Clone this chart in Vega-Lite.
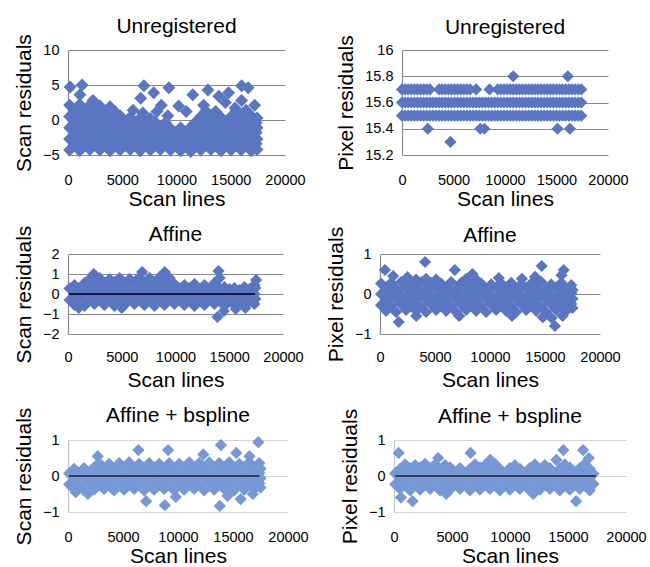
{
"$schema":"https://vega.github.io/schema/vega-lite/v6.json",
"padding":{"left":13,"top":15,"right":0,"bottom":0},
"background":"white",
"config":{
 "font":"Liberation Sans",
 "view":{"stroke":null},
 "title":{"fontSize":21,"fontWeight":"normal","color":"#000","font":"Liberation Sans"},
 "axis":{"labelFont":"Liberation Sans","titleFont":"Liberation Sans","labelFontSize":14.5,"labelColor":"#000","titleFontSize":21,"titleFontWeight":"normal","titleColor":"#000","ticks":false,"domainColor":"#8a8a8a","gridColor":"#8a8a8a","gridWidth":1.2,"domainWidth":1.2,"labelFlush":false,"labelOverlap":false},
 "axisX":{"domain":false,"grid":false,"labelPadding":18,"titlePadding":2},
 "axisY":{"labelPadding":9,"titlePadding":8},
 "point":{"shape":"diamond","filled":true,"size":150,"opacity":1,"strokeWidth":0}
},
"datasets":{
"zl":[{"x":100,"y":0},{"x":17400,"y":0}],
"p1":[
{"x":150,"y":-4.3},{"x":1080,"y":-4.4},{"x":2010,"y":-4.2},{"x":2940,"y":-4.3},{"x":3870,"y":-4.4},{"x":4800,"y":-4.3},{"x":5730,"y":-4.2},{"x":6660,"y":-4.4},{"x":7590,"y":-4.3},{"x":8520,"y":-4.2},{"x":9450,"y":-4.3},{"x":10380,"y":-4.4},{"x":11310,"y":-4.5},{"x":12240,"y":-4.3},{"x":13170,"y":-4.2},{"x":14100,"y":-4.4},{"x":15030,"y":-4.3},{"x":15960,"y":-4.3},{"x":16890,"y":-4.4},{"x":17420,"y":-4.2},
{"x":600,"y":-3.5},{"x":1530,"y":-3.6},{"x":2460,"y":-3.4},{"x":3390,"y":-3.5},{"x":4320,"y":-3.5},{"x":5250,"y":-3.6},{"x":6180,"y":-3.4},{"x":7110,"y":-3.5},{"x":8040,"y":-3.6},{"x":8970,"y":-3.5},{"x":9900,"y":-3.4},{"x":10830,"y":-3.5},{"x":11760,"y":-3.6},{"x":12690,"y":-3.5},{"x":13620,"y":-3.4},{"x":14550,"y":-3.5},{"x":15480,"y":-3.6},{"x":16410,"y":-3.5},{"x":17340,"y":-3.4},
{"x":150,"y":-2.7},{"x":1080,"y":-2.6},{"x":2010,"y":-2.8},{"x":2940,"y":-2.7},{"x":3870,"y":-2.7},{"x":4800,"y":-2.6},{"x":5730,"y":-2.8},{"x":6660,"y":-2.7},{"x":7590,"y":-2.6},{"x":8520,"y":-2.7},{"x":9450,"y":-2.8},{"x":10380,"y":-2.7},{"x":11310,"y":-2.6},{"x":12240,"y":-2.7},{"x":13170,"y":-2.8},{"x":14100,"y":-2.7},{"x":15030,"y":-2.7},{"x":15960,"y":-2.6},{"x":16890,"y":-2.8},{"x":17420,"y":-2.7},
{"x":600,"y":-1.9},{"x":1530,"y":-2.0},{"x":2460,"y":-1.8},{"x":3390,"y":-1.9},{"x":4320,"y":-1.9},{"x":5250,"y":-2.0},{"x":6180,"y":-1.8},{"x":7110,"y":-1.9},{"x":8040,"y":-1.9},{"x":8970,"y":-2.0},{"x":9900,"y":-1.8},{"x":10830,"y":-1.9},{"x":11760,"y":-1.9},{"x":12690,"y":-2.0},{"x":13620,"y":-1.8},{"x":14550,"y":-1.9},{"x":15480,"y":-1.9},{"x":16410,"y":-2.0},{"x":17340,"y":-1.8},
{"x":150,"y":-1.1},{"x":1080,"y":-1.0},{"x":2010,"y":-1.2},{"x":2940,"y":-1.1},{"x":3870,"y":-1.1},{"x":4800,"y":-1.0},{"x":5730,"y":-1.2},{"x":6660,"y":-1.1},{"x":7590,"y":-1.0},{"x":8520,"y":-1.1},{"x":9450,"y":-1.2},{"x":10380,"y":-1.1},{"x":11310,"y":-1.0},{"x":12240,"y":-1.1},{"x":13170,"y":-1.2},{"x":14100,"y":-1.1},{"x":15030,"y":-1.1},{"x":15960,"y":-1.0},{"x":16890,"y":-1.2},{"x":17420,"y":-1.1},
{"x":600,"y":-0.3},{"x":1530,"y":-0.2},{"x":2460,"y":-0.4},{"x":3390,"y":-0.3},{"x":4320,"y":-0.3},{"x":5250,"y":-0.2},{"x":6180,"y":-0.4},{"x":7110,"y":-0.3},{"x":8040,"y":-0.3},{"x":8970,"y":-0.4},{"x":11760,"y":-0.3},{"x":12690,"y":-0.2},{"x":13620,"y":-0.4},{"x":14550,"y":-0.3},{"x":15480,"y":-0.3},{"x":16410,"y":-0.2},{"x":17340,"y":-0.4},
{"x":150,"y":0.5},{"x":1080,"y":0.6},{"x":2010,"y":0.4},{"x":2940,"y":0.5},{"x":3870,"y":0.5},{"x":4800,"y":0.6},{"x":5730,"y":0.4},{"x":6660,"y":0.3},{"x":7590,"y":0.2},{"x":12240,"y":0.5},{"x":13170,"y":0.6},{"x":14100,"y":0.4},{"x":15030,"y":0.5},{"x":15960,"y":0.5},{"x":16890,"y":0.6},{"x":17420,"y":0.3},
{"x":600,"y":1.3},{"x":1530,"y":1.4},{"x":2460,"y":1.2},{"x":3390,"y":1.3},{"x":4320,"y":1.2},{"x":12690,"y":1.3},{"x":13620,"y":1.2},{"x":15480,"y":1.3},{"x":16410,"y":1.4},
{"x":150,"y":2.1},{"x":1080,"y":2.2},{"x":2010,"y":2.1},{"x":2940,"y":2.0},{"x":3870,"y":1.9},
{"x":200,"y":4.7},{"x":1300,"y":5.0},{"x":1100,"y":3.6},{"x":2300,"y":2.8},{"x":7000,"y":4.9},{"x":6700,"y":3.1},{"x":7900,"y":3.9},{"x":9300,"y":4.6},{"x":8600,"y":2.1},{"x":6000,"y":1.4},{"x":6900,"y":1.0},{"x":10200,"y":2.0},{"x":11500,"y":3.6},{"x":12900,"y":4.3},{"x":13900,"y":3.4},{"x":12500,"y":2.1},{"x":14800,"y":3.9},{"x":16000,"y":4.9},{"x":16600,"y":4.6},{"x":17200,"y":2.1},{"x":15400,"y":1.7},{"x":9200,"y":0.6},{"x":10900,"y":1.2},{"x":8200,"y":1.2},{"x":14500,"y":2.5},{"x":16000,"y":2.8}
],
"p2":[
{"x":0,"y":15.5},{"x":300,"y":15.5},{"x":600,"y":15.5},{"x":900,"y":15.5},{"x":1200,"y":15.5},{"x":1500,"y":15.5},{"x":1800,"y":15.5},{"x":2100,"y":15.5},{"x":2400,"y":15.5},{"x":2700,"y":15.5},{"x":3000,"y":15.5},{"x":3300,"y":15.5},{"x":3600,"y":15.5},{"x":3900,"y":15.5},{"x":4200,"y":15.5},{"x":4500,"y":15.5},{"x":4800,"y":15.5},{"x":5100,"y":15.5},{"x":5400,"y":15.5},{"x":5700,"y":15.5},{"x":6000,"y":15.5},{"x":6300,"y":15.5},{"x":6600,"y":15.5},{"x":6900,"y":15.5},{"x":7200,"y":15.5},{"x":7500,"y":15.5},{"x":7800,"y":15.5},{"x":8100,"y":15.5},{"x":8400,"y":15.5},{"x":8700,"y":15.5},{"x":9000,"y":15.5},{"x":9300,"y":15.5},{"x":9600,"y":15.5},{"x":9900,"y":15.5},{"x":10200,"y":15.5},{"x":10500,"y":15.5},{"x":10800,"y":15.5},{"x":11100,"y":15.5},{"x":11400,"y":15.5},{"x":11700,"y":15.5},{"x":12000,"y":15.5},{"x":12300,"y":15.5},{"x":12600,"y":15.5},{"x":12900,"y":15.5},{"x":13200,"y":15.5},{"x":13500,"y":15.5},{"x":13800,"y":15.5},{"x":14100,"y":15.5},{"x":14400,"y":15.5},{"x":14700,"y":15.5},{"x":15000,"y":15.5},{"x":15300,"y":15.5},{"x":15600,"y":15.5},{"x":15900,"y":15.5},{"x":16200,"y":15.5},{"x":16500,"y":15.5},{"x":16800,"y":15.5},{"x":17100,"y":15.5},{"x":17400,"y":15.5},
{"x":0,"y":15.6},{"x":300,"y":15.6},{"x":600,"y":15.6},{"x":900,"y":15.6},{"x":1200,"y":15.6},{"x":1500,"y":15.6},{"x":1800,"y":15.6},{"x":2100,"y":15.6},{"x":2400,"y":15.6},{"x":2700,"y":15.6},{"x":3000,"y":15.6},{"x":3300,"y":15.6},{"x":3600,"y":15.6},{"x":3900,"y":15.6},{"x":4200,"y":15.6},{"x":4500,"y":15.6},{"x":4800,"y":15.6},{"x":5100,"y":15.6},{"x":5400,"y":15.6},{"x":5700,"y":15.6},{"x":6000,"y":15.6},{"x":6300,"y":15.6},{"x":6600,"y":15.6},{"x":6900,"y":15.6},{"x":7200,"y":15.6},{"x":7500,"y":15.6},{"x":7800,"y":15.6},{"x":8100,"y":15.6},{"x":8400,"y":15.6},{"x":8700,"y":15.6},{"x":9000,"y":15.6},{"x":9300,"y":15.6},{"x":9600,"y":15.6},{"x":9900,"y":15.6},{"x":10200,"y":15.6},{"x":10500,"y":15.6},{"x":10800,"y":15.6},{"x":11100,"y":15.6},{"x":11400,"y":15.6},{"x":11700,"y":15.6},{"x":12000,"y":15.6},{"x":12300,"y":15.6},{"x":12600,"y":15.6},{"x":12900,"y":15.6},{"x":13200,"y":15.6},{"x":13500,"y":15.6},{"x":13800,"y":15.6},{"x":14100,"y":15.6},{"x":14400,"y":15.6},{"x":14700,"y":15.6},{"x":15000,"y":15.6},{"x":15300,"y":15.6},{"x":15600,"y":15.6},{"x":15900,"y":15.6},{"x":16200,"y":15.6},{"x":16500,"y":15.6},{"x":16800,"y":15.6},{"x":17100,"y":15.6},{"x":17400,"y":15.6},
{"x":0,"y":15.7},{"x":300,"y":15.7},{"x":600,"y":15.7},{"x":900,"y":15.7},{"x":1200,"y":15.7},{"x":1500,"y":15.7},{"x":1800,"y":15.7},{"x":2100,"y":15.7},{"x":2400,"y":15.7},{"x":2700,"y":15.7},{"x":3600,"y":15.7},{"x":3900,"y":15.7},{"x":4200,"y":15.7},{"x":4500,"y":15.7},{"x":4800,"y":15.7},{"x":5100,"y":15.7},{"x":5400,"y":15.7},{"x":5700,"y":15.7},{"x":6000,"y":15.7},{"x":6300,"y":15.7},{"x":6600,"y":15.7},{"x":7200,"y":15.7},{"x":8500,"y":15.7},{"x":9300,"y":15.7},{"x":9600,"y":15.7},{"x":9900,"y":15.7},{"x":10200,"y":15.7},{"x":10500,"y":15.7},{"x":10800,"y":15.7},{"x":11100,"y":15.7},{"x":11400,"y":15.7},{"x":11700,"y":15.7},{"x":12000,"y":15.7},{"x":12300,"y":15.7},{"x":12600,"y":15.7},{"x":12900,"y":15.7},{"x":13200,"y":15.7},{"x":13500,"y":15.7},{"x":13800,"y":15.7},{"x":14100,"y":15.7},{"x":14400,"y":15.7},{"x":14700,"y":15.7},{"x":15000,"y":15.7},{"x":15300,"y":15.7},{"x":15600,"y":15.7},{"x":15900,"y":15.7},{"x":16200,"y":15.7},{"x":16500,"y":15.7},{"x":16800,"y":15.7},{"x":17100,"y":15.7},{"x":17400,"y":15.7},
{"x":10800,"y":15.8},{"x":16100,"y":15.8},{"x":2500,"y":15.4},{"x":7600,"y":15.4},{"x":8000,"y":15.4},{"x":15100,"y":15.4},{"x":16300,"y":15.4},{"x":4700,"y":15.3}
],
"p3":[
{"x":600,"y":-0.55},{"x":1530,"y":-0.6},{"x":2460,"y":-0.5},{"x":3390,"y":-0.55},{"x":4320,"y":-0.6},{"x":5250,"y":-0.55},{"x":6180,"y":-0.5},{"x":7110,"y":-0.55},{"x":8040,"y":-0.6},{"x":8970,"y":-0.55},{"x":9900,"y":-0.5},{"x":10830,"y":-0.55},{"x":11760,"y":-0.6},{"x":12690,"y":-0.55},{"x":13620,"y":-0.5},{"x":14550,"y":-0.6},{"x":15480,"y":-0.55},{"x":16410,"y":-0.6},{"x":17340,"y":-0.5},
{"x":150,"y":-0.3},{"x":1080,"y":-0.25},{"x":2010,"y":-0.3},{"x":2940,"y":-0.28},{"x":3870,"y":-0.25},{"x":4800,"y":-0.3},{"x":5730,"y":-0.28},{"x":6660,"y":-0.3},{"x":7590,"y":-0.25},{"x":8520,"y":-0.28},{"x":9450,"y":-0.3},{"x":10380,"y":-0.25},{"x":11310,"y":-0.28},{"x":12240,"y":-0.3},{"x":13170,"y":-0.25},{"x":14100,"y":-0.28},{"x":15030,"y":-0.3},{"x":15960,"y":-0.28},{"x":16890,"y":-0.3},{"x":17420,"y":-0.25},
{"x":600,"y":0.0},{"x":1530,"y":0.02},{"x":2460,"y":-0.02},{"x":3390,"y":0.0},{"x":4320,"y":0.03},{"x":5250,"y":-0.02},{"x":6180,"y":0.0},{"x":7110,"y":0.02},{"x":8040,"y":0.0},{"x":8970,"y":-0.03},{"x":9900,"y":0.0},{"x":10830,"y":0.02},{"x":11760,"y":0.0},{"x":12690,"y":-0.02},{"x":13620,"y":0.0},{"x":14550,"y":0.02},{"x":15480,"y":0.0},{"x":16410,"y":-0.02},{"x":17340,"y":0.0},
{"x":150,"y":0.28},{"x":1080,"y":0.3},{"x":2010,"y":0.25},{"x":2940,"y":0.3},{"x":3870,"y":0.28},{"x":4800,"y":0.3},{"x":5730,"y":0.25},{"x":6660,"y":0.28},{"x":7590,"y":0.3},{"x":8520,"y":0.28},{"x":9450,"y":0.25},{"x":10380,"y":0.28},{"x":11310,"y":0.3},{"x":12240,"y":0.25},{"x":13170,"y":0.28},{"x":14100,"y":0.3},{"x":15030,"y":0.25},{"x":15960,"y":0.2},{"x":16890,"y":0.25},{"x":17420,"y":0.3},
{"x":600,"y":0.45},{"x":1530,"y":0.55},{"x":2460,"y":0.6},{"x":3390,"y":0.55},{"x":4320,"y":0.6},{"x":5250,"y":0.55},{"x":6180,"y":0.6},{"x":7110,"y":0.55},{"x":8040,"y":0.6},{"x":8970,"y":0.55},{"x":9900,"y":0.5},{"x":10830,"y":0.45},{"x":11760,"y":0.5},{"x":12690,"y":0.45},{"x":13620,"y":0.55},{"x":14550,"y":0.35},{"x":15480,"y":0.3},{"x":16410,"y":0.35},{"x":17340,"y":0.45},
{"x":2010,"y":0.75},{"x":2940,"y":0.8},{"x":3870,"y":0.75},{"x":4800,"y":0.8},{"x":5730,"y":0.75},{"x":6660,"y":0.85},{"x":7590,"y":0.8},{"x":8520,"y":0.85},{"x":9450,"y":0.8},{"x":14100,"y":0.8},
{"x":2400,"y":1.0},{"x":6900,"y":1.1},{"x":9000,"y":1.1},{"x":14000,"y":1.15},{"x":17500,"y":0.7},{"x":13900,"y":-1.15},{"x":14500,"y":-0.85},{"x":15600,"y":-0.75},{"x":16500,"y":-0.7},{"x":1000,"y":-0.7},{"x":5000,"y":-0.7}
],
"p4":[
{"x":550,"y":-0.42},{"x":1460,"y":-0.45},{"x":2370,"y":-0.4},{"x":3280,"y":-0.42},{"x":4190,"y":-0.45},{"x":5100,"y":-0.4},{"x":6010,"y":-0.42},{"x":6920,"y":-0.45},{"x":7830,"y":-0.4},{"x":8740,"y":-0.42},{"x":9650,"y":-0.45},{"x":10560,"y":-0.4},{"x":11470,"y":-0.42},{"x":12380,"y":-0.45},{"x":13290,"y":-0.4},{"x":14200,"y":-0.42},{"x":15110,"y":-0.45},{"x":16020,"y":-0.4},{"x":16930,"y":-0.42},{"x":17500,"y":-0.35},
{"x":100,"y":-0.28},{"x":1010,"y":-0.3},{"x":1920,"y":-0.26},{"x":2830,"y":-0.28},{"x":3740,"y":-0.3},{"x":4650,"y":-0.26},{"x":5560,"y":-0.28},{"x":6470,"y":-0.3},{"x":7380,"y":-0.26},{"x":8290,"y":-0.28},{"x":9200,"y":-0.3},{"x":10110,"y":-0.26},{"x":11020,"y":-0.28},{"x":11930,"y":-0.3},{"x":12840,"y":-0.26},{"x":13750,"y":-0.28},{"x":14660,"y":-0.3},{"x":15570,"y":-0.26},{"x":16480,"y":-0.28},{"x":17390,"y":-0.25},
{"x":550,"y":-0.14},{"x":1460,"y":-0.12},{"x":2370,"y":-0.16},{"x":3280,"y":-0.14},{"x":4190,"y":-0.12},{"x":5100,"y":-0.16},{"x":6010,"y":-0.14},{"x":6920,"y":-0.12},{"x":7830,"y":-0.16},{"x":8740,"y":-0.14},{"x":9650,"y":-0.12},{"x":10560,"y":-0.16},{"x":11470,"y":-0.14},{"x":12380,"y":-0.12},{"x":13290,"y":-0.16},{"x":14200,"y":-0.14},{"x":15110,"y":-0.12},{"x":16020,"y":-0.16},{"x":16930,"y":-0.14},{"x":17500,"y":-0.12},
{"x":100,"y":0.0},{"x":1010,"y":0.02},{"x":1920,"y":-0.02},{"x":2830,"y":0.0},{"x":3740,"y":0.02},{"x":4650,"y":-0.02},{"x":5560,"y":0.0},{"x":6470,"y":0.02},{"x":7380,"y":-0.02},{"x":8290,"y":0.0},{"x":9200,"y":0.02},{"x":10110,"y":-0.02},{"x":11020,"y":0.0},{"x":11930,"y":0.02},{"x":12840,"y":-0.02},{"x":13750,"y":0.0},{"x":14660,"y":0.02},{"x":15570,"y":-0.02},{"x":16480,"y":0.0},{"x":17390,"y":0.02},
{"x":550,"y":0.14},{"x":1460,"y":0.12},{"x":2370,"y":0.16},{"x":3280,"y":0.14},{"x":4190,"y":0.12},{"x":5100,"y":0.16},{"x":6010,"y":0.14},{"x":6920,"y":0.12},{"x":7830,"y":0.16},{"x":8740,"y":0.14},{"x":9650,"y":0.12},{"x":10560,"y":0.16},{"x":11470,"y":0.14},{"x":12380,"y":0.12},{"x":13290,"y":0.16},{"x":14200,"y":0.14},{"x":15110,"y":0.12},{"x":16020,"y":0.16},{"x":16930,"y":0.14},{"x":17500,"y":0.1},
{"x":100,"y":0.26},{"x":1010,"y":0.28},{"x":1920,"y":0.3},{"x":2830,"y":0.28},{"x":3740,"y":0.3},{"x":4650,"y":0.28},{"x":5560,"y":0.26},{"x":6470,"y":0.3},{"x":7380,"y":0.28},{"x":8290,"y":0.3},{"x":9200,"y":0.26},{"x":10110,"y":0.24},{"x":11020,"y":0.26},{"x":11930,"y":0.28},{"x":12840,"y":0.24},{"x":13750,"y":0.26},{"x":14660,"y":0.3},{"x":15570,"y":0.24},{"x":16480,"y":0.28},{"x":17390,"y":0.22},
{"x":3280,"y":0.36},{"x":4190,"y":0.38},{"x":5100,"y":0.36},{"x":7830,"y":0.38},{"x":8740,"y":0.36},
{"x":450,"y":0.6},{"x":4100,"y":0.8},{"x":6800,"y":0.6},{"x":14700,"y":0.7},{"x":16700,"y":0.6},{"x":1700,"y":-0.7},{"x":15900,"y":-0.8},{"x":15600,"y":-0.6},{"x":8400,"y":0.5},{"x":14100,"y":0.43},{"x":16500,"y":0.47},{"x":1200,"y":0.45},{"x":2500,"y":0.42},{"x":10800,"y":0.4},{"x":12900,"y":0.38},{"x":3300,"y":-0.55},{"x":7200,"y":-0.55},{"x":12000,"y":-0.55},{"x":14800,"y":-0.58},{"x":16600,"y":-0.55}
],
"p5":[
{"x":550,"y":-0.36},{"x":1460,"y":-0.4},{"x":2370,"y":-0.38},{"x":3280,"y":-0.36},{"x":4190,"y":-0.4},{"x":5100,"y":-0.38},{"x":6010,"y":-0.36},{"x":6920,"y":-0.4},{"x":7830,"y":-0.38},{"x":8740,"y":-0.36},{"x":9650,"y":-0.4},{"x":10560,"y":-0.38},{"x":11470,"y":-0.36},{"x":12380,"y":-0.4},{"x":13290,"y":-0.38},{"x":14200,"y":-0.36},{"x":15110,"y":-0.4},{"x":16020,"y":-0.38},{"x":16930,"y":-0.36},{"x":17500,"y":-0.32},
{"x":100,"y":-0.23},{"x":1010,"y":-0.25},{"x":1920,"y":-0.21},{"x":2830,"y":-0.23},{"x":3740,"y":-0.25},{"x":4650,"y":-0.21},{"x":5560,"y":-0.23},{"x":6470,"y":-0.25},{"x":7380,"y":-0.21},{"x":8290,"y":-0.23},{"x":9200,"y":-0.25},{"x":10110,"y":-0.21},{"x":11020,"y":-0.23},{"x":11930,"y":-0.25},{"x":12840,"y":-0.21},{"x":13750,"y":-0.23},{"x":14660,"y":-0.25},{"x":15570,"y":-0.21},{"x":16480,"y":-0.23},{"x":17390,"y":-0.2},
{"x":550,"y":-0.08},{"x":1460,"y":-0.06},{"x":2370,"y":-0.1},{"x":3280,"y":-0.08},{"x":4190,"y":-0.06},{"x":5100,"y":-0.1},{"x":6010,"y":-0.08},{"x":6920,"y":-0.06},{"x":7830,"y":-0.1},{"x":8740,"y":-0.08},{"x":9650,"y":-0.06},{"x":10560,"y":-0.1},{"x":11470,"y":-0.08},{"x":12380,"y":-0.06},{"x":13290,"y":-0.1},{"x":14200,"y":-0.08},{"x":15110,"y":-0.06},{"x":16020,"y":-0.1},{"x":16930,"y":-0.08},{"x":17500,"y":-0.06},
{"x":100,"y":0.07},{"x":1010,"y":0.09},{"x":1920,"y":0.05},{"x":2830,"y":0.07},{"x":3740,"y":0.09},{"x":4650,"y":0.05},{"x":5560,"y":0.07},{"x":6470,"y":0.09},{"x":7380,"y":0.05},{"x":8290,"y":0.07},{"x":9200,"y":0.09},{"x":10110,"y":0.05},{"x":11020,"y":0.07},{"x":11930,"y":0.09},{"x":12840,"y":0.05},{"x":13750,"y":0.07},{"x":14660,"y":0.09},{"x":15570,"y":0.05},{"x":16480,"y":0.07},{"x":17390,"y":0.09},
{"x":550,"y":0.2},{"x":1460,"y":0.22},{"x":2370,"y":0.24},{"x":3280,"y":0.22},{"x":4190,"y":0.2},{"x":5100,"y":0.24},{"x":6010,"y":0.22},{"x":6920,"y":0.2},{"x":7830,"y":0.24},{"x":8740,"y":0.22},{"x":9650,"y":0.2},{"x":10560,"y":0.24},{"x":11470,"y":0.22},{"x":12380,"y":0.2},{"x":13290,"y":0.24},{"x":14200,"y":0.22},{"x":15110,"y":0.2},{"x":16020,"y":0.24},{"x":16930,"y":0.22},{"x":17500,"y":0.2},
{"x":2830,"y":0.36},{"x":3740,"y":0.34},{"x":4650,"y":0.36},{"x":5560,"y":0.38},{"x":6470,"y":0.34},{"x":7380,"y":0.36},{"x":8290,"y":0.34},{"x":9200,"y":0.36},{"x":10110,"y":0.34},{"x":11020,"y":0.38},{"x":11930,"y":0.36},{"x":12840,"y":0.38},{"x":13750,"y":0.36},{"x":14660,"y":0.38},{"x":15570,"y":0.34},{"x":16480,"y":0.38},{"x":17390,"y":0.36},
{"x":6400,"y":0.72},{"x":9100,"y":0.72},{"x":13900,"y":0.86},{"x":17300,"y":0.94},{"x":15300,"y":0.64},{"x":12300,"y":0.6},{"x":16500,"y":0.55},{"x":2700,"y":0.55},{"x":7100,"y":-0.7},{"x":8800,"y":-0.81},{"x":13800,"y":-0.83},{"x":15700,"y":-0.64},{"x":9800,"y":-0.58},{"x":14500,"y":-0.55},{"x":16800,"y":-0.5},{"x":1800,"y":-0.5},{"x":700,"y":-0.45}
],
"p6":[
{"x":530,"y":-0.36},{"x":1390,"y":-0.4},{"x":2250,"y":-0.38},{"x":3110,"y":-0.36},{"x":3970,"y":-0.4},{"x":4830,"y":-0.38},{"x":5690,"y":-0.36},{"x":6550,"y":-0.4},{"x":7410,"y":-0.38},{"x":8270,"y":-0.36},{"x":9130,"y":-0.4},{"x":9990,"y":-0.38},{"x":10850,"y":-0.36},{"x":11710,"y":-0.4},{"x":12570,"y":-0.38},{"x":13430,"y":-0.36},{"x":14290,"y":-0.4},{"x":15150,"y":-0.38},{"x":16010,"y":-0.36},{"x":16870,"y":-0.4},
{"x":100,"y":-0.23},{"x":960,"y":-0.25},{"x":1820,"y":-0.21},{"x":2680,"y":-0.23},{"x":3540,"y":-0.25},{"x":4400,"y":-0.21},{"x":5260,"y":-0.23},{"x":6120,"y":-0.25},{"x":6980,"y":-0.21},{"x":7840,"y":-0.23},{"x":8700,"y":-0.25},{"x":9560,"y":-0.21},{"x":10420,"y":-0.23},{"x":11280,"y":-0.25},{"x":12140,"y":-0.21},{"x":13000,"y":-0.23},{"x":13860,"y":-0.25},{"x":14720,"y":-0.21},{"x":15580,"y":-0.23},{"x":16440,"y":-0.25},{"x":17200,"y":-0.22},
{"x":530,"y":-0.08},{"x":1390,"y":-0.06},{"x":2250,"y":-0.1},{"x":3110,"y":-0.08},{"x":3970,"y":-0.06},{"x":4830,"y":-0.1},{"x":5690,"y":-0.08},{"x":6550,"y":-0.06},{"x":7410,"y":-0.1},{"x":8270,"y":-0.08},{"x":9130,"y":-0.06},{"x":9990,"y":-0.1},{"x":10850,"y":-0.08},{"x":11710,"y":-0.06},{"x":12570,"y":-0.1},{"x":13430,"y":-0.08},{"x":14290,"y":-0.06},{"x":15150,"y":-0.1},{"x":16010,"y":-0.08},{"x":16870,"y":-0.06},
{"x":100,"y":0.07},{"x":960,"y":0.09},{"x":1820,"y":0.05},{"x":2680,"y":0.07},{"x":3540,"y":0.09},{"x":4400,"y":0.05},{"x":5260,"y":0.07},{"x":6120,"y":0.09},{"x":6980,"y":0.05},{"x":7840,"y":0.07},{"x":8700,"y":0.09},{"x":9560,"y":0.05},{"x":10420,"y":0.07},{"x":11280,"y":0.09},{"x":12140,"y":0.05},{"x":13000,"y":0.07},{"x":13860,"y":0.09},{"x":14720,"y":0.05},{"x":15580,"y":0.07},{"x":16440,"y":0.09},{"x":17200,"y":0.06},
{"x":530,"y":0.2},{"x":1390,"y":0.22},{"x":2250,"y":0.24},{"x":3110,"y":0.22},{"x":3970,"y":0.2},{"x":4830,"y":0.24},{"x":5690,"y":0.22},{"x":6550,"y":0.2},{"x":7410,"y":0.24},{"x":8270,"y":0.22},{"x":9130,"y":0.2},{"x":9990,"y":0.22},{"x":10850,"y":0.2},{"x":11710,"y":0.22},{"x":12570,"y":0.2},{"x":13430,"y":0.22},{"x":14290,"y":0.2},{"x":15150,"y":0.24},{"x":16010,"y":0.22},{"x":16870,"y":0.2},
{"x":960,"y":0.32},{"x":1820,"y":0.3},{"x":2680,"y":0.34},{"x":3540,"y":0.32},{"x":4400,"y":0.3},{"x":6980,"y":0.32},{"x":7840,"y":0.3},{"x":8700,"y":0.34},{"x":10420,"y":0.3},{"x":12140,"y":0.32},{"x":13000,"y":0.3},{"x":14720,"y":0.32},{"x":16440,"y":0.34},
{"x":400,"y":0.64},{"x":6600,"y":0.64},{"x":14600,"y":0.72},{"x":16300,"y":0.72},{"x":1600,"y":-0.7},{"x":15700,"y":-0.7},{"x":600,"y":-0.6},{"x":3800,"y":0.5},{"x":8300,"y":0.45},{"x":14000,"y":0.45},{"x":16800,"y":0.5},{"x":4500,"y":-0.5},{"x":12000,"y":-0.5}
]
},
"spacing":14,
"vconcat":[
{"spacing":29,"hconcat":[
 {"width":217,"height":105,"title":{"text":"Unregistered","offset":-3},
  "data":{"name":"p1"},"mark":{"type":"point","color":"#5a76c2","size":168},
  "encoding":{
   "x":{"field":"x","type":"quantitative","scale":{"domain":[0,20000],"nice":false},"axis":{"values":[0,5000,10000,15000,20000],"tickCount":12,"format":"d","title":"Scan lines"}},
   "y":{"field":"y","type":"quantitative","scale":{"domain":[-5,10],"nice":false,"zero":false},"axis":{"values":[-5,0,5,10],"tickCount":12,"format":"d","title":"Scan residuals"}}}},
 {"width":206,"height":105,"title":{"text":"Unregistered","offset":-3},
  "data":{"name":"p2"},"mark":{"type":"point","color":"#5a76c2"},
  "encoding":{
   "x":{"field":"x","type":"quantitative","scale":{"domain":[0,20000],"nice":false},"axis":{"values":[0,5000,10000,15000,20000],"tickCount":12,"format":"d","title":"Scan lines"}},
   "y":{"field":"y","type":"quantitative","scale":{"domain":[15.2,16],"nice":false,"zero":false},"axis":{"values":[15.2,15.4,15.6,15.8,16],"tickCount":12,"format":"~g","title":"Pixel residuals"}}}}
]},
{"spacing":21,"hconcat":[
 {"width":215,"height":80,"title":{"text":"Affine","offset":-20},
  "layer":[
   {"data":{"name":"p3"},"mark":{"type":"point","color":"#5a76c2"},
    "encoding":{
     "x":{"field":"x","type":"quantitative","scale":{"domain":[0,20000],"nice":false},"axis":{"values":[0,5000,10000,15000,20000],"tickCount":12,"format":"d","title":"Scan lines","labelPadding":16,"titlePadding":6}},
     "y":{"field":"y","type":"quantitative","scale":{"domain":[-2,2],"nice":false,"zero":false},"axis":{"values":[-2,-1,0,1,2],"tickCount":12,"format":"d","title":"Scan residuals"}}}},
   {"data":{"name":"zl"},"mark":{"type":"line","color":"#000","strokeWidth":1.5},
    "encoding":{"x":{"field":"x","type":"quantitative"},"y":{"field":"y","type":"quantitative"}}}
  ]},
 {"width":220,"height":80,"title":{"text":"Affine","offset":-20},
  "data":{"name":"p4"},"mark":{"type":"point","color":"#5a76c2"},
  "encoding":{
   "x":{"field":"x","type":"quantitative","scale":{"domain":[0,20000],"nice":false},"axis":{"values":[0,5000,10000,15000,20000],"tickCount":12,"format":"d","title":"Scan lines","labelPadding":16,"titlePadding":6}},
   "y":{"field":"y","type":"quantitative","scale":{"domain":[-1,1],"nice":false,"zero":false},"axis":{"tickCount":2,"format":"d","title":"Pixel residuals"}}}}
]},
{"spacing":30,"hconcat":[
 {"width":220,"height":72,"title":{"text":"Affine + bspline","offset":-19},
  "layer":[
   {"data":{"name":"p5"},"mark":{"type":"point","color":"#7698d6"},
    "encoding":{
     "x":{"field":"x","type":"quantitative","scale":{"domain":[0,20000],"nice":false},"axis":{"values":[0,5000,10000,15000,20000],"tickCount":12,"format":"d","title":"Scan lines","titlePadding":2}},
     "y":{"field":"y","type":"quantitative","scale":{"domain":[-1,1],"nice":false,"zero":false},"axis":{"tickCount":2,"format":"d","title":"Scan residuals","gridColor":"#d4d4d4","domainColor":"#c4c4c4"}}}},
   {"data":{"name":"zl"},"mark":{"type":"line","color":"#222","strokeWidth":1.5},
    "encoding":{"x":{"field":"x","type":"quantitative"},"y":{"field":"y","type":"quantitative"}}}
  ]},
 {"width":232,"height":72,"title":{"text":"Affine + bspline","offset":-19},
  "layer":[
   {"data":{"name":"p6"},"mark":{"type":"point","color":"#7698d6"},
    "encoding":{
     "x":{"field":"x","type":"quantitative","scale":{"domain":[0,20000],"nice":false},"axis":{"values":[0,5000,10000,15000,20000],"tickCount":12,"format":"d","title":"Scan lines","titlePadding":2}},
     "y":{"field":"y","type":"quantitative","scale":{"domain":[-1,1],"nice":false,"zero":false},"axis":{"tickCount":2,"format":"d","title":"Pixel residuals","gridColor":"#d4d4d4","domainColor":"#c4c4c4"}}}},
   {"data":{"name":"zl"},"mark":{"type":"line","color":"#222","strokeWidth":1.5},
    "encoding":{"x":{"field":"x","type":"quantitative"},"y":{"field":"y","type":"quantitative"}}}
  ]}
]}
]
}
